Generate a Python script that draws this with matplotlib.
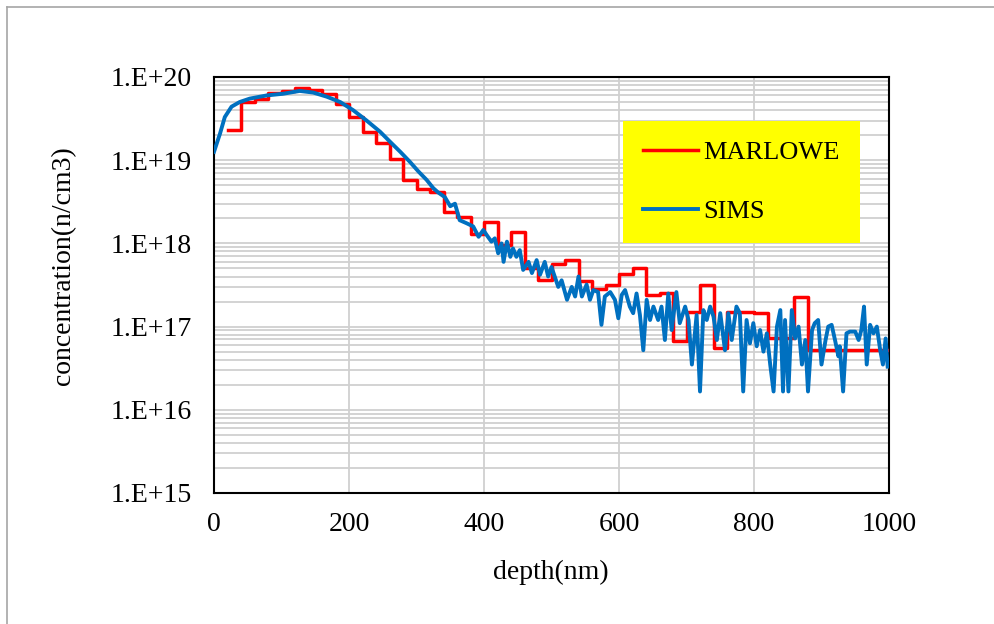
import numpy as np
import matplotlib
matplotlib.use("Agg")
import matplotlib.pyplot as plt
from matplotlib.lines import Line2D
from matplotlib.ticker import LogLocator, NullFormatter

plt.rcParams['font.family'] = ['Liberation Serif', 'DejaVu Serif']

# MARLOWE: 20 nm bins, left edges from 20 nm
marlowe_depth = np.arange(20, 1001, 20)
marlowe_conc = [
    2.3e19, 5.0e19, 5.4e19, 6.4e19, 6.8e19, 7.3e19, 7.0e19, 6.3e19, 4.8e19, 3.3e19,
    2.2e19, 1.6e19, 1.03e19, 5.8e18, 4.5e18, 4.1e18, 2.4e18, 2.1e18, 1.3e18, 1.8e18,
    9.6e17, 1.38e18, 5.1e17, 3.6e17, 5.6e17, 6.4e17, 3.5e17, 2.8e17, 3.2e17, 4.3e17,
    5.1e17, 2.4e17, 2.5e17, 6.8e16, 1.5e17, 3.2e17, 5.5e16, 1.5e17, 1.5e17, 1.45e17,
    7.3e16, 7.3e16, 2.25e17, 5.3e16, 5.3e16, 5.3e16, 5.3e16, 5.2e16, 5.2e16,
]

# SIMS profile
sims_depth = [
    0, 9, 16, 26, 38, 53, 78, 103, 127, 147, 167, 187, 206, 226, 246, 261, 276, 290,
    303, 315, 325, 332, 342, 350, 357, 364, 374, 384, 392, 399, 404, 411, 416, 421,
    426, 429, 434, 439, 443, 448, 453, 458, 466, 471, 478, 483, 490, 495, 500, 510,
    515, 523, 530, 535, 540, 545, 552, 557, 562, 569, 574, 579, 587, 594, 599, 604,
    609, 616, 621, 626, 631, 636, 641, 646, 651, 658, 663, 668, 673, 678, 685, 690,
    698, 703, 708, 715, 720, 725, 730, 735, 740, 745, 750, 757, 762, 767, 774, 779,
    784, 789, 794, 799, 804, 809, 814, 819, 824, 829, 834, 839, 843, 846, 851, 856,
    861, 866, 871, 876, 880, 886, 890, 895, 900, 906, 910, 915, 920, 925, 927, 932,
    937, 942, 950, 955, 959, 963, 967, 972, 977, 982, 987, 991, 995, 998,
]
sims_conc = [
    1.26e19, 2.1e19, 3.3e19, 4.4e19, 5.0e19, 5.5e19, 6.0e19, 6.3e19, 6.8e19, 6.5e19,
    5.8e19, 5.0e19, 4.0e19, 3.0e19, 2.2e19, 1.66e19, 1.26e19, 9.6e18,
    7.3e18, 5.8e18, 4.6e18, 4.1e18, 3.6e18, 2.8e18, 3.0e18, 1.9e18, 1.75e18, 1.6e18,
    1.2e18, 1.45e18, 1.26e18, 1.05e18, 1.15e18, 7.6e17,
    1.0e18, 6.0e17, 1.05e18, 6.9e17, 8.7e17, 6.9e17, 8.3e17, 4.8e17, 6.0e17, 4.4e17,
    6.3e17, 4.2e17, 6.0e17, 4.0e17, 5.2e17, 3.0e17,
    3.6e17, 2.1e17, 3.0e17, 2.3e17, 4.0e17, 2.3e17, 3.2e17, 2.1e17, 2.75e17, 2.6e17,
    1.05e17, 2.3e17, 2.6e17, 2.1e17, 1.26e17, 2.4e17,
    2.75e17, 1.74e17, 1.45e17, 2.5e17, 1.38e17, 5.2e16, 2.1e17, 1.2e17, 1.74e17,
    1.2e17, 1.74e17, 6.9e16, 2.5e17, 9.1e16, 2.6e17, 1.1e17,
    1.74e17, 1.2e17, 3.5e16, 1.38e17, 1.66e16, 1.58e17, 1.2e17, 1.74e17, 1.32e17,
    6.9e16, 1.45e17, 5.2e16, 1.45e17, 6.9e16, 1.74e17, 1.45e17,
    1.66e16, 1.2e17, 6.3e16, 1.1e17, 5.8e16, 9.1e16, 5.0e16, 8.3e16, 3.5e16, 1.66e16,
    1.0e17, 1.58e17, 1.66e16, 1.2e17, 1.66e16, 1.58e17,
    7.2e16, 1.0e17, 3.5e16, 6.9e16, 1.66e16, 9.1e16, 1.1e17, 1.2e17, 3.5e16, 6.9e16,
    1.0e17, 1.05e17, 6.9e16, 4.4e16, 5.8e16, 1.66e16,
    8.3e16, 8.7e16, 8.7e16, 6.9e16, 9.1e16, 1.74e17, 3.5e16, 1.05e17, 8.3e16, 1.0e17,
    5.2e16, 3.5e16, 7.2e16, 3.3e16,
]

ytick_vals = [1e15, 1e16, 1e17, 1e18, 1e19, 1e20]
ytick_labels = ["1.E+15", "1.E+16", "1.E+17", "1.E+18", "1.E+19", "1.E+20"]
xtick_vals = [0, 200, 400, 600, 800, 1000]

fig = plt.figure(figsize=(9.94, 6.24), dpi=100, facecolor="white")
ax = fig.add_axes([214 / 994, 1 - 493 / 624, 675 / 994, 416 / 624])

# outer chart border (top and left only visible)
fig.add_artist(Line2D([7 / 994, 7 / 994], [0, 1 - 6.5 / 624], color="#a6a6a6", lw=1.2))
fig.add_artist(Line2D([7 / 994, 1], [1 - 6.5 / 624, 1 - 6.5 / 624], color="#a6a6a6", lw=1.2))

red_vals = list(marlowe_conc) + [marlowe_conc[-1]]
ax.step(marlowe_depth, red_vals, where="post", color="#ff0000", lw=2.5, label="MARLOWE", zorder=3)
ax.plot(sims_depth, sims_conc, color="#0070c0", lw=2.8, label="SIMS", zorder=4)

ax.set_yscale("log")
ax.set_ylim(1e15, 1e20)
ax.set_xlim(0, 1000)
ax.set_yticks(ytick_vals)
ax.set_yticklabels(ytick_labels)
ax.yaxis.set_minor_locator(LogLocator(base=10, subs=np.arange(2, 10)))
ax.yaxis.set_minor_formatter(NullFormatter())
ax.set_xticks(xtick_vals)

ax.grid(True, which="both", axis="y", color="#d0d0d0", lw=1.3)
ax.grid(True, which="major", axis="x", color="#d0d0d0", lw=1.3)
ax.set_axisbelow(True)
ax.tick_params(which="both", length=0)
ax.tick_params(axis="y", labelsize=20, pad=16)
ax.tick_params(axis="x", labelsize=20, pad=14)

for sp in ax.spines.values():
    sp.set_color("black")
    sp.set_linewidth(1.5)

ax.set_xlabel("depth(nm)", fontsize=20)
ax.set_ylabel("concentration(n/cm3)", fontsize=20)
ax.xaxis.set_label_coords(0.499, -0.16)
ax.yaxis.set_label_coords(-0.205, 0.546)

leg = ax.legend(loc="upper left", bbox_to_anchor=(0.606, 0.894), borderaxespad=0,
                fontsize=19, frameon=True, fancybox=False, facecolor="#ffff00",
                edgecolor="none", framealpha=1, handlelength=2.1, handletextpad=0.2,
                labelspacing=1.35, borderpad=0.75)

fig.savefig("out.png", dpi=100, facecolor="white")
